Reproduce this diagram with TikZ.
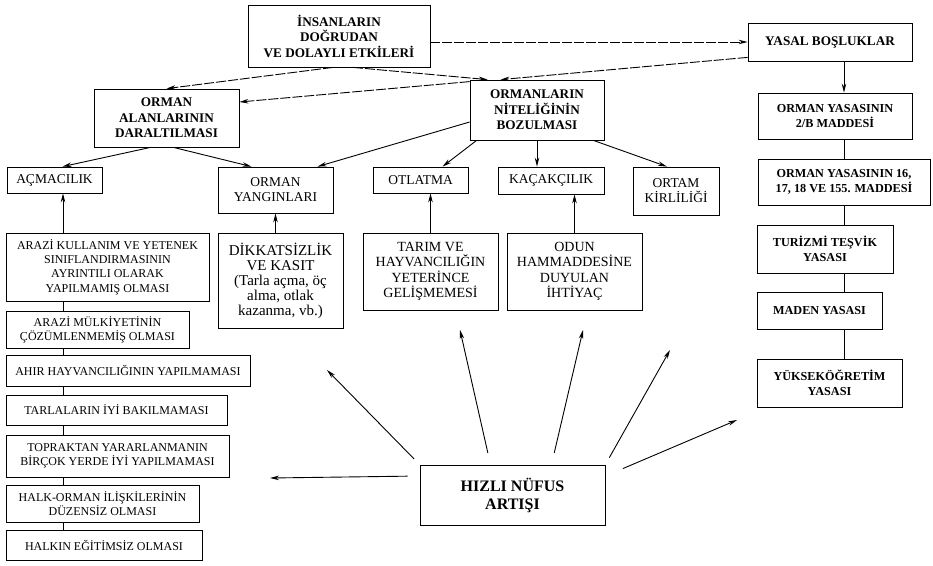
\documentclass[tikz,border=0pt]{standalone}
\usepackage{fontspec}
\setmainfont{Liberation Serif}
\usepackage{tikz}
\usetikzlibrary{arrows.meta, calc}

\tikzset{
  box/.style={draw, line width=0.8pt, align=center, inner sep=1pt},
  sz/.style 2 args={minimum width=#1pt, minimum height=#2pt},
  mainbox/.style={box, font=\fontsize{13.2}{15.5}\selectfont\bfseries},
  subbox/.style={box, font=\fontsize{13.5}{15}\selectfont},
  causebox/.style={box, font=\fontsize{12}{14.3}\selectfont},
  lawbox/.style={box, font=\fontsize{12.2}{15}\selectfont\bfseries},
  link/.style={line width=0.9pt, -{Stealth[length=9pt,width=4.5pt]}},
  dlink/.style={link, dashed, dash pattern=on 10pt off 2pt},
}

\begin{document}
\begin{tikzpicture}[x=1pt, y=-1pt]
    \useasboundingbox (0,0) rectangle (933,565);

    % Top level
    \node[mainbox, sz={182}{62}] (insan) at (339,36) {İNSANLARIN\\DOĞRUDAN\\VE DOLAYLI ETKİLERİ};
    \node[mainbox, sz={164}{38}] (yasal) at (830,42) {YASAL BOŞLUKLAR};
    \node[mainbox, sz={145}{58}] (alan) at (166.5,118) {ORMAN\\ALANLARININ\\DARALTILMASI};
    \node[mainbox, sz={134}{60}] (nitelik) at (537,110) {ORMANLARIN\\NİTELİĞİNİN\\BOZULMASI};

    % Second level
    \node[subbox, sz={95}{26}] (acma) at (54.5,180) {AÇMACILIK};
    \node[subbox, sz={115}{46}] (yangin) at (275.5,190) {ORMAN\\YANGINLARI};
    \node[subbox, sz={95}{26}] (otlatma) at (420.5,180) {OTLATMA};
    \node[subbox, sz={106}{27}] (kacak) at (551,180.5) {KAÇAKÇILIK};
    \node[subbox, sz={86}{48}] (ortam) at (676,191) {ORTAM\\KİRLİLİĞİ};

    % Laws
    \node[lawbox, sz={154}{46}] (madde2b) at (835,116) {ORMAN YASASININ\\2/B MADDESİ};
    \node[lawbox, sz={172}{46}] (madde16) at (844,182) {ORMAN YASASININ 16,\\17, 18 VE 155. MADDESİ};
    \node[lawbox, sz={136}{48}] (turizm) at (825,249) {TURİZMİ TEŞVİK\\YASASI};
    \node[lawbox, sz={125}{37}] (maden) at (819.5,310.5) {MADEN YASASI};
    \node[lawbox, sz={145}{48}] (yuksek) at (829.5,383) {YÜKSEKÖĞRETİM\\YASASI};

    % Causes
    \node[causebox, sz={203}{68}] (arazi) at (107.5,267) {ARAZİ KULLANIM VE YETENEK\\SINIFLANDIRMASININ\\AYRINTILI OLARAK\\YAPILMAMIŞ OLMASI};
    \node[causebox, sz={183}{37}] (mulk) at (97.5,329.5) {ARAZİ MÜLKİYETİNİN\\ÇÖZÜMLENMEMİŞ OLMASI};
    \node[causebox, sz={244}{31}] (ahir) at (128,370.5) {AHIR HAYVANCILIĞININ YAPILMAMASI};
    \node[causebox, sz={221}{30}] (tarla) at (116.5,410) {TARLALARIN İYİ BAKILMAMASI};
    \node[causebox, sz={223}{42}] (toprak) at (117.5,456) {TOPRAKTAN YARARLANMANIN\\BİRÇOK YERDE İYİ YAPILMAMASI};
    \node[causebox, sz={193}{37}] (halkorman) at (102.5,503.5) {HALK-ORMAN İLİŞKİLERİNİN\\DÜZENSİZ OLMASI};
    \node[causebox, sz={196}{30}] (halkin) at (104,545) {HALKIN EĞİTİMSİZ OLMASI};
    \node[box, sz={125}{95}, font=\fontsize{15}{15}\selectfont] (dikkat) at (280.5,280.5) {DİKKATSİZLİK\\VE KASIT\\(Tarla açma, öç\\alma, otlak\\kazanma, vb.)};
    \node[box, sz={135}{77}, font=\fontsize{14}{15.5}\selectfont] (tarim) at (430.5,271.5) {TARIM VE\\HAYVANCILIĞIN\\YETERİNCE\\GELİŞMEMESİ};
    \node[box, sz={135}{77}, font=\fontsize{14}{15.5}\selectfont] (odun) at (574.5,271.5) {ODUN\\HAMMADDESİNE\\DUYULAN\\İHTİYAÇ};
    \node[box, sz={185}{60}, font=\fontsize{16}{18}\selectfont\bfseries] (hizli) at (512.5,495) {HIZLI NÜFUS\\ARTIŞI};

    % Column guides
    \coordinate (lcol) at (63,0);
    \coordinate (rcol) at (844,0);

    % Upper links
    \draw[dlink] (insan.east |- yasal.west) -- (yasal.west);
    \draw[dlink] ($(yasal.south west)+(0,-4)$) -- ($(nitelik.north west)+(31,0)$);
    \draw[dlink] ($(insan.south)+(14,0)$) -- ($(nitelik.north west)+(18,0)$);
    \draw[dlink] ($(insan.south)+(-6,0)$) -- (alan.north);
    \draw[dlink] ($(nitelik.north west)+(0,2)$) -- ($(alan.east)+(0,-16)$);
    \draw[link] ($(nitelik.west)+(0,12)$) -- ($(yangin.north)+(42,0)$);
    \draw[link] ($(nitelik.south west)+(7,0)$) -- ($(otlatma.north)+(22,0)$);
    \draw[link] (nitelik.south) -- (nitelik.south |- kacak.north);
    \draw[link] ($(nitelik.south east)+(-11,0)$) -- ($(ortam.north)+(-9,0)$);
    \draw[link] ($(alan.south)+(-16,0)$) -- ($(acma.north)+(8,0)$);
    \draw[link] ($(alan.south)+(7,0)$) -- ($(yangin.north)+(-24,0)$);

    % Causes to second level
    \draw[link] (arazi.north -| lcol) -- (acma.south -| lcol);
    \draw[link] (yangin.south |- dikkat.north) -- (yangin.south);
    \draw[link] (tarim.north) -- (tarim.north |- otlatma.south);
    \draw[link] (odun.north) -- (odun.north |- kacak.south);

    % Left column
    \foreach \a/\b in {arazi/mulk, mulk/ahir, ahir/tarla, tarla/toprak, toprak/halkorman, halkorman/halkin}
        \draw[line width=0.6pt] (\a.south -| lcol) -- (\b.north -| lcol);

    % Right column
    \draw[link] (yasal.south -| rcol) -- (madde2b.north -| rcol);
    \foreach \a/\b in {madde2b/madde16, madde16/turizm, turizm/maden, maden/yuksek}
        \draw[line width=0.6pt] (\a.south -| rcol) -- (\b.north -| rcol);

    % Population growth
    \coordinate (pLeft) at (270,478);
    \coordinate (pUpLeft) at (327,370);
    \coordinate (pUpA) at (460,330);
    \coordinate (pUpB) at (583,330);
    \coordinate (pUpRight) at (670,350);
    \coordinate (pRight) at (737,420);
    \draw[link, shorten <=12pt] ($(hizli.west)+(0,-19)$) -- (pLeft);
    \draw[link, shorten <=8pt] (hizli.north west) -- (pUpLeft);
    \draw[link, shorten <=12pt] ($(hizli.north)+(-22,0)$) -- (pUpA);
    \draw[link, shorten <=12pt] ($(hizli.north)+(39,0)$) -- (pUpB);
    \draw[link, shorten <=8pt] (hizli.north east) -- (pUpRight);
    \draw[link, shorten <=19pt] ($(hizli.east)+(0,-19)$) -- (pRight);
\end{tikzpicture}
\end{document}
